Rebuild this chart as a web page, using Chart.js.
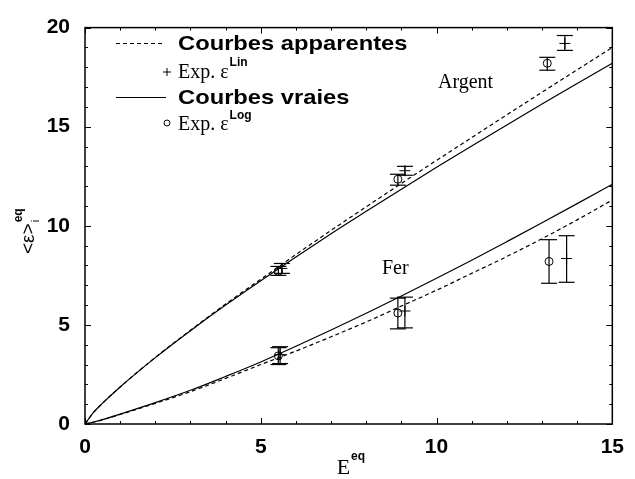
<!DOCTYPE html>
<html><head><meta charset="utf-8">
<script src="https://cdn.jsdelivr.net/npm/chart.js@4/dist/chart.umd.min.js"></script>
<style>html,body{margin:0;padding:0;background:#fff}#c{display:block}</style>
</head><body>
<canvas id="c" width="635" height="479"></canvas>
<script>
// ---- data ----
const xCurve      = [0, 0.25, 0.5, 1, 2, 3, 4, 5, 6, 7, 8, 9, 10, 11, 12, 13, 14, 15];
const argentVraie = [0, 0.6, 1.05, 1.87, 3.35, 4.71, 6.0, 7.23, 8.43, 9.6, 10.73, 11.85, 12.95, 14.03, 15.09, 16.14, 17.18, 18.2];
const argentApp   = [0, 0.6, 1.05, 1.87, 3.36, 4.73, 6.05, 7.3, 8.55, 9.77, 10.96, 12.14, 13.3, 14.45, 15.6, 16.74, 17.87, 19.0];
const ferVraie    = [0, 0.1, 0.22, 0.5, 1.08, 1.7, 2.4, 3.13, 3.92, 4.74, 5.59, 6.46, 7.35, 8.26, 9.2, 10.15, 11.12, 12.1];
const ferApp      = [0, 0.1, 0.21, 0.48, 1.04, 1.63, 2.3, 3.0, 3.68, 4.4, 5.15, 5.95, 6.75, 7.6, 8.45, 9.35, 10.3, 11.3];

const argentLinX  = [5.6, 9.1, 13.65];
const argentLinY  = [7.85, 12.78, 19.2];
const argentLinLo = [7.6, 12.55, 18.85];
const argentLinHi = [8.1, 13.0, 19.6];
const argentLogX  = [5.5, 8.9, 13.15];
const argentLogY  = [7.7, 12.35, 18.2];
const argentLogLo = [7.5, 12.05, 17.85];
const argentLogHi = [7.95, 12.6, 18.5];
const ferLinX     = [5.55, 9.1, 13.7];
const ferLinY     = [3.5, 5.7, 8.35];
const ferLinLo    = [3.05, 4.85, 7.15];
const ferLinHi    = [3.9, 6.4, 9.5];
const ferLogX     = [5.5, 8.9, 13.2];
const ferLogY     = [3.44, 5.6, 8.2];
const ferLogLo    = [3.0, 4.8, 7.1];
const ferLogHi    = [3.85, 6.35, 9.3];

const xTicks = [0, 5, 10, 15];
const yTicks = [0, 5, 10, 15, 20];

const pts = (xs, ys) => xs.map((v, i) => ({x: v, y: ys[i]}));
const SANS = '"Liberation Sans", Arial, sans-serif';
const SERIF = '"Liberation Serif", "Times New Roman", serif';

function curve(xs, ys, dashed) {
  return {data: pts(xs, ys), showLine: true, borderColor: '#000', borderWidth: 1.2,
    borderDash: dashed ? [4, 3] : [], pointRadius: 0, fill: false, cubicInterpolationMode: 'monotone'};
}
function marks(xs, ys, style) {
  return {data: pts(xs, ys), showLine: false, borderColor: '#000', backgroundColor: 'rgba(0,0,0,0)',
    borderWidth: 1, pointStyle: style, pointRadius: style === 'cross' ? 5.5 : 4};
}

const deco = {
  id: 'deco',
  afterDatasetsDraw(chart) {
    const {ctx, chartArea: a, scales: {x, y}} = chart;
    const line = (x1, y1, x2, y2) => { ctx.beginPath(); ctx.moveTo(x1, y1); ctx.lineTo(x2, y2); ctx.stroke(); };
    ctx.save();
    ctx.strokeStyle = '#000';
    // error bars
    ctx.lineWidth = 1.2;
    const eb = (xs, lo, hi) => xs.forEach((v, i) => {
      const px = x.getPixelForValue(v), p1 = y.getPixelForValue(lo[i]), p2 = y.getPixelForValue(hi[i]);
      line(px, p1, px, p2); line(px - 8, p1, px + 8, p1); line(px - 8, p2, px + 8, p2);
    });
    eb(argentLinX, argentLinLo, argentLinHi);
    eb(argentLogX, argentLogLo, argentLogHi);
    eb(ferLinX, ferLinLo, ferLinHi);
    eb(ferLogX, ferLogLo, ferLogHi);
    // frame
    ctx.lineWidth = 1.5;
    ctx.strokeRect(a.left, a.top, a.right - a.left, a.bottom - a.top);
    // ticks (inward, mirrored)
    ctx.lineWidth = 1;
    for (let v = 0; v <= 15; v++) {
      const px = Math.round(x.getPixelForValue(v)) + 0.5, L = v % 5 === 0 ? 6 : 3;
      line(px, a.bottom, px, a.bottom - L); line(px, a.top, px, a.top + L);
    }
    for (let v = 0; v <= 20; v++) {
      const py = Math.round(y.getPixelForValue(v)) + 0.5, L = v % 5 === 0 ? 6 : 3;
      line(a.left, py, a.left + L, py); line(a.right, py, a.right - L, py);
    }
    // legend
    ctx.fillStyle = '#000';
    ctx.lineWidth = 1;
    ctx.setLineDash([4, 3]); line(116, 43.5, 164, 43.5); ctx.setLineDash([]);
    ctx.lineWidth = 1.2; line(116, 97.5, 166, 97.5);
    ctx.lineWidth = 1;
    line(163, 72, 171, 72); line(167, 68, 167, 76);
    ctx.beginPath(); ctx.arc(167, 123, 3, 0, Math.PI * 2); ctx.stroke();
    ctx.textBaseline = 'alphabetic'; ctx.textAlign = 'left';
    ctx.font = 'bold 21px ' + SANS;
    const wide = (t, px, py) => { ctx.save(); ctx.translate(px, py); ctx.scale(1.13, 1); ctx.fillText(t, 0, 0); ctx.restore(); };
    wide('Courbes apparentes', 178, 50);
    wide('Courbes vraies', 178, 104);
    ctx.font = '20px ' + SERIF;
    ctx.fillText('Exp. ε', 178, 78);
    let w = ctx.measureText('Exp. ε').width;
    ctx.fillText('Exp. ε', 178, 130);
    ctx.font = 'bold 12px ' + SANS;
    ctx.fillText('Lin', 178 + w + 1, 66);
    ctx.fillText('Log', 178 + w + 1, 119);
    // annotations
    ctx.font = '20px ' + SERIF;
    ctx.fillText('Argent', 438, 88);
    ctx.fillText('Fer', 382, 274);
    // x title
    ctx.font = '22px ' + SERIF;
    const cx = (a.left + a.right) / 2;
    const wE = ctx.measureText('E').width;
    ctx.fillText('E', cx - 12, 474);
    ctx.font = 'bold 12px ' + SANS;
    ctx.fillText('eq', cx - 12 + wE + 1, 460);
    // y title
    ctx.save();
    ctx.translate(34, 254);
    ctx.rotate(-Math.PI / 2);
    ctx.font = '19px ' + SANS;
    ctx.fillText('<ε>', 0, 0);
    const wY = ctx.measureText('<ε>').width;
    ctx.font = '11px ' + SANS;
    ctx.fillText('i', wY + 1, 5);
    ctx.font = 'bold 12px ' + SANS;
    ctx.fillText('eq', wY + 1, -12);
    ctx.restore();
    ctx.restore();
  }
};

new Chart(document.getElementById('c'), {
  type: 'scatter',
  data: {
    datasets: [
      curve(xCurve, argentApp, true),
      curve(xCurve, argentVraie, false),
      curve(xCurve, ferApp, true),
      curve(xCurve, ferVraie, false),
      marks(argentLinX, argentLinY, 'cross'),
      marks(argentLogX, argentLogY, 'circle'),
      marks(ferLinX, ferLinY, 'cross'),
      marks(ferLogX, ferLogY, 'circle')
    ]
  },
  options: {
    responsive: false, animation: false,
    layout: {padding: {left: 0, top: 20, right: 16, bottom: 0}},
    plugins: {legend: {display: false}, tooltip: {enabled: false}},
    scales: {
      x: {type: 'linear', min: 0, max: 15,
        afterFit: s => { s.height = 55; },
        afterBuildTicks: s => { s.ticks = xTicks.map(v => ({value: v})); },
        grid: {display: false, drawTicks: false}, border: {display: false},
        ticks: {padding: 11, color: '#000', font: {family: SANS, weight: 'bold', size: 21}}},
      y: {type: 'linear', min: 0, max: 20,
        afterFit: s => { s.width = 85; },
        afterBuildTicks: s => { s.ticks = yTicks.map(v => ({value: v})); },
        grid: {display: false, drawTicks: false}, border: {display: false},
        ticks: {padding: 15, color: '#000', font: {family: SANS, weight: 'bold', size: 21}}}
    }
  },
  plugins: [deco]
});
</script>
</body></html>
